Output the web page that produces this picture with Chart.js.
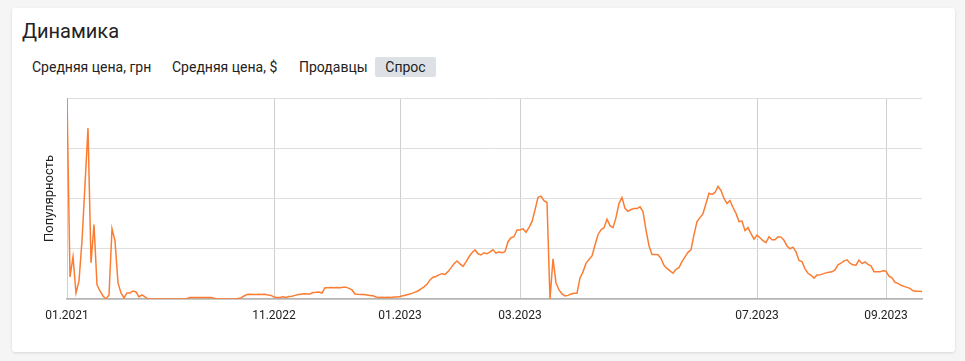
<!DOCTYPE html>
<html>
<head>
<meta charset="utf-8">
<script src="https://cdn.jsdelivr.net/npm/chart.js@4.4.1/dist/chart.umd.min.js"></script>
<style>
  html, body { margin: 0; padding: 0; }
  body { width: 965px; height: 361px; background: #f5f5f5; position: relative; overflow: hidden; font-family: Roboto, "Liberation Sans", Arial, sans-serif; color: #222; }
  .card { position: absolute; left: 12px; top: 8px; width: 943px; height: 344px; background: #fff; border-radius: 3px; box-shadow: 0 1px 3px rgba(0,0,0,0.12); }
  .title { position: absolute; left: 22px; top: 21px; font-size: 20px; line-height: 20px; color: #222; white-space: nowrap; }
  .tab { position: absolute; top: 57px; height: 20px; line-height: 20px; font-size: 14px; color: #222; white-space: nowrap; }
  .tab.active { background: #dde1e6; border-radius: 2px; text-align: center; }
  #wrap { position: absolute; left: 20px; top: 90px; width: 920px; height: 240px; }
</style>
</head>
<body>
<div class="card"></div>
<div class="title">Динамика</div>
<div class="tab" style="left:32px">Средняя цена, грн</div>
<div class="tab" style="left:172px">Средняя цена, $</div>
<div class="tab" style="left:299px">Продавцы</div>
<div class="tab active" style="left:375px;width:61px">Спрос</div>
<div id="wrap"><canvas id="c"></canvas></div>
<script>
// Popularity ("Спрос") series, one value per data record (0..100 scale)
const demand = [
  100, 11, 21, 3, 9, 29, 57, 85, 18, 37,
  7, 4, 1.5, 0, 2, 35, 29, 8, 3, 0.5,
  3, 3, 4, 3.5, 1, 2, 1, 0, 0, 0,
  0, 0, 0, 0, 0, 0, 0, 0, 0, 0,
  0.3, 0.8, 0.8, 0.8, 0.8, 0.8, 0.8, 0.8, 0.8, 0.4,
  0, 0, 0, 0, 0, 0, 0, 0.3, 0.5, 1.5,
  2.2, 2.4, 2.3, 2.3, 2.4, 2.2, 2.3, 2.0, 1.8, 1.0,
  0.8, 0.8, 1.1, 0.8, 1.2, 1.4, 1.8, 2.2, 2.4, 2.6,
  2.5, 2.5, 3.2, 3.3, 3.5, 3.0, 5.6, 5.6, 5.7, 5.6,
  5.7, 5.6, 5.8, 5.9, 5.3, 4.5, 2.5, 2.3, 2.2, 2.2,
  2.0, 1.8, 1.6, 1.0, 0.8, 0.9, 0.8, 0.9, 0.8, 1.0,
  1.0, 1.2, 1.6, 2.0, 2.4, 2.8, 3.4, 4.0, 5.0, 6.0,
  7.3, 9.5, 10.8, 11.2, 12.0, 12.6, 12.2, 13.6, 15.5, 17.5,
  18.9, 17.5, 16.2, 18.5, 21.0, 23.0, 24.4, 22.5, 21.9, 23.0,
  22.5, 23.5, 24.5, 22.8, 23.5, 23.0, 23.5, 28.5, 30.5, 31.0,
  34.3, 34.3, 35.0, 33.2, 35.5, 38.5, 44.3, 50.6, 51.2, 48.9,
  48.0, 0, 20, 8, 4.5, 2.5, 1.5, 1.8, 2.5, 2.8,
  2.8, 10.5, 13.5, 17.7, 19.7, 21.4, 26.9, 32.0, 34.5, 35.5,
  39.7, 36.5, 35.5, 40.5, 47.6, 50.5, 45.1, 43.6, 44.5, 45.0,
  45.0, 45.9, 43.5, 34.3, 26.5, 22.2, 22.2, 22.0, 20.2, 16.8,
  15.2, 14.0, 12.8, 14.8, 15.6, 18.6, 21.0, 23.2, 24.4, 32.0,
  38.5, 40.5, 42.5, 47.5, 52.6, 52.0, 53.0, 56.0, 54.0, 50.0,
  47.5, 49.0, 45.5, 42.6, 38.5, 38.8, 34.0, 35.5, 32.5, 29.8,
  31.8, 30.5, 29.0, 28.0, 31.0, 29.5, 29.5, 31.0, 30.8, 29.2,
  26.4, 25.0, 25.8, 23.5, 19.2, 18.6, 15.0, 12.8, 11.8, 10.4,
  11.9, 12.0, 12.5, 13.0, 13.3, 13.5, 14.5, 17.0, 17.8, 19.0,
  19.5, 17.8, 17.0, 16.8, 19.4, 17.6, 18.5, 17.2, 16.5, 13.6,
  13.5, 13.5, 14.0, 13.8, 11.4, 10.5, 8.3, 7.8, 6.8, 6.3,
  5.8, 5.3, 4.1, 3.9, 3.8, 3.7
];
// Month labels and the record index where each month starts
const tickLabels = ['01.2021', '11.2022', '01.2023', '03.2023', '07.2023', '09.2023'];
const tickRecords = [0, 69, 111, 151, 230, 273];
const yTitle = 'Популярность';

const points = demand.map((v, i) => ({ x: i, y: v }));

new Chart(document.getElementById('c'), {
  type: 'line',
  data: {
    datasets: [{
      data: points,
      borderColor: '#fb7d33',
      borderWidth: 1.5,
      pointRadius: 0,
      tension: 0,
      fill: false
    }]
  },
  options: {
    responsive: true,
    maintainAspectRatio: false,
    animation: false,
    layout: { padding: { top: 8, right: 18, bottom: 0, left: 0 } },
    plugins: { legend: { display: false }, tooltip: { enabled: false } },
    scales: {
      x: {
        type: 'linear',
        min: 0,
        max: demand.length - 1,
        afterBuildTicks: (s) => { s.ticks = tickRecords.map(v => ({ value: v })); },
        afterFit: (s) => { s.height = 31; },
        ticks: {
          autoSkip: false,
          maxRotation: 0,
          padding: 10,
          color: '#222',
          font: { family: 'Roboto, "Liberation Sans", Arial, sans-serif', size: 12 },
          callback: (v) => { const k = tickRecords.indexOf(v); return k >= 0 ? tickLabels[k] : ''; }
        },
        grid: { color: '#cfcfcf', drawTicks: false },
        border: { color: '#b4b4b4', width: 1.5 }
      },
      y: {
        min: 0,
        max: 100,
        afterFit: (s) => { s.width = 47; },
        ticks: { display: false, stepSize: 25 },
        grid: { color: '#dedede', drawTicks: false },
        border: { display: false },
        title: {
          display: true,
          text: yTitle,
          color: '#222',
          font: { family: 'Roboto, "Liberation Sans", Arial, sans-serif', size: 13 },
          padding: { top: 22, bottom: 0 }
        }
      }
    }
  }
});
</script>
</body>
</html>
